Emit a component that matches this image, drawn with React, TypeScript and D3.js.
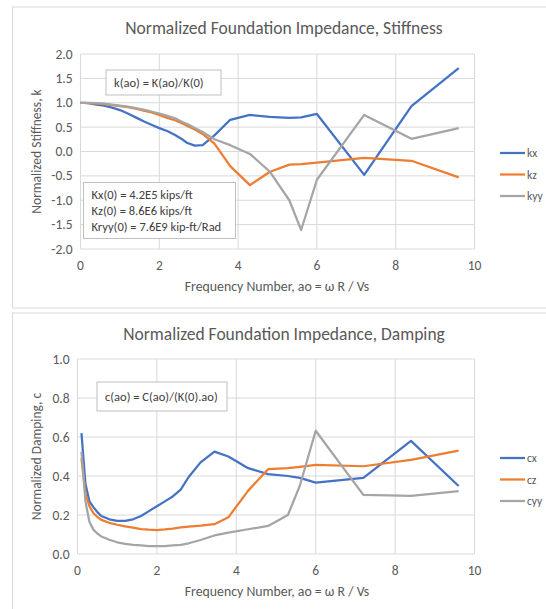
import React from 'react';
import * as d3 from 'd3';

// stiffness
const aoK = [0, 0.2, 0.4, 0.6, 0.8, 1.0, 1.2, 1.4, 1.6, 1.8, 2.0, 2.2, 2.4, 2.6, 2.7, 2.9, 3.1, 3.4, 3.8, 4.3, 4.8, 5.3, 5.6, 6.0, 7.2, 8.4, 9.6];
const kx = [1.0, 0.99, 0.96, 0.94, 0.9, 0.85, 0.78, 0.7, 0.62, 0.55, 0.48, 0.42, 0.34, 0.24, 0.18, 0.12, 0.13, 0.33, 0.65, 0.75, 0.71, 0.69, 0.7, 0.77, -0.48, 0.93, 1.71];
const kz = [1.0, 0.99, 0.98, 0.97, 0.95, 0.93, 0.91, 0.88, 0.84, 0.8, 0.75, 0.69, 0.64, 0.57, 0.53, 0.45, 0.36, 0.16, -0.3, -0.69, -0.42, -0.27, -0.26, -0.23, -0.13, -0.19, -0.53];
const kyy = [1.0, 1.0, 0.99, 0.98, 0.96, 0.94, 0.92, 0.89, 0.86, 0.82, 0.78, 0.73, 0.68, 0.6, 0.57, 0.48, 0.4, 0.25, 0.13, -0.05, -0.41, -1.0, -1.61, -0.58, 0.75, 0.26, 0.48];

// damping
const aoC = [0.1, 0.2, 0.3, 0.4, 0.5, 0.6, 0.8, 1.0, 1.2, 1.4, 1.6, 1.8, 2.0, 2.2, 2.4, 2.6, 2.8, 3.1, 3.45, 3.8, 4.3, 4.8, 5.3, 5.6, 6.0, 7.2, 8.4, 9.6];
const cx = [0.62, 0.36, 0.27, 0.24, 0.215, 0.195, 0.178, 0.17, 0.17, 0.178, 0.195, 0.22, 0.245, 0.27, 0.295, 0.33, 0.395, 0.47, 0.525, 0.5, 0.44, 0.41, 0.4, 0.39, 0.366, 0.39, 0.58, 0.349];
const cz = [0.49, 0.31, 0.245, 0.21, 0.19, 0.175, 0.16, 0.15, 0.142, 0.135, 0.128, 0.125, 0.123, 0.126, 0.13, 0.136, 0.14, 0.145, 0.153, 0.188, 0.325, 0.435, 0.44, 0.447, 0.457, 0.45, 0.483, 0.53];
const cyy = [0.525, 0.27, 0.165, 0.125, 0.105, 0.09, 0.073, 0.06, 0.052, 0.047, 0.044, 0.041, 0.04, 0.041, 0.044, 0.047, 0.055, 0.072, 0.095, 0.11, 0.127, 0.144, 0.2, 0.35, 0.632, 0.303, 0.298, 0.323];

const xTicks = [0, 2, 4, 6, 8, 10];
const kTicks = [-2, -1.5, -1, -0.5, 0, 0.5, 1, 1.5, 2];
const cTicks = [0, 0.2, 0.4, 0.6, 0.8, 1.0];

const colors = ['#4472C4', '#ED7D31', '#A5A5A5'];
const font = 'Carlito, Calibri, "Open Sans", sans-serif';
const textColor = '#595959';

interface Series {
  name: string;
  values: number[];
}

interface ChartProps {
  top: number;
  title: string;
  yLabel: string;
  xs: number[];
  series: Series[];
  yTicks: number[];
  plot: { left: number; right: number; top: number; bottom: number };
  notes: { x: number; y: number; w: number; h: number; lines: string[] }[];
}

const Chart: React.FC<ChartProps> = ({ top, title, yLabel, xs, series, yTicks, plot, notes }) => {
  const x = d3.scaleLinear().domain([0, 10]).range([plot.left, plot.right]);
  const y = d3
    .scaleLinear()
    .domain([yTicks[0], yTicks[yTicks.length - 1]])
    .range([plot.bottom, plot.top]);

  const line = d3
    .line<number>()
    .x((_, i) => x(xs[i]))
    .y((d) => y(d));

  return (
    <g>
      {/* chart frame */}
      <rect x={12.5} y={top} width={560} height={301} fill="#fff" stroke="#d9d9d9" strokeWidth={1} />
      <text x={284} y={top + 27} textAnchor="middle" fontSize={17.5} fill={textColor} fontFamily={font}>
        {title}
      </text>

      {/* gridlines */}
      {yTicks.map((t) => (
        <line key={'h' + t} x1={plot.left} x2={plot.right} y1={y(t)} y2={y(t)} stroke="#d9d9d9" />
      ))}
      {xTicks.map((t) => (
        <line key={'v' + t} x1={x(t)} x2={x(t)} y1={plot.top} y2={plot.bottom} stroke="#d9d9d9" />
      ))}

      {/* tick labels */}
      {yTicks.map((t) => (
        <text key={'yl' + t} x={plot.left - 8} y={y(t) + 4.5} textAnchor="end" fontSize={13.5} fill={textColor} fontFamily={font}>
          {d3.format('.1f')(t).replace('−', '-')}
        </text>
      ))}
      {xTicks.map((t) => (
        <text key={'xl' + t} x={x(t)} y={plot.bottom + 21} textAnchor="middle" fontSize={13.5} fill={textColor} fontFamily={font}>
          {t}
        </text>
      ))}

      <text x={277} y={plot.bottom + 42} textAnchor="middle" fontSize={13.8} fill={textColor} fontFamily={font}>
        Frequency Number, ao = ω R / Vs
      </text>
      <text
        transform={`translate(41, ${(plot.top + plot.bottom) / 2}) rotate(-90)`}
        textAnchor="middle"
        fontSize={13.5}
        fill={textColor}
        fontFamily={font}
      >
        {yLabel}
      </text>

      {/* notes */}
      {notes.map((n, i) => (
        <g key={'n' + i}>
          <rect x={n.x} y={n.y} width={n.w} height={n.h} fill="#fff" stroke="#bfbfbf" />
          {n.lines.map((l, j) => (
            <text key={j} x={n.x + 8} y={n.y + (n.lines.length === 1 ? n.h / 2 + 4.5 : 16 + j * 16)} fontSize={12.5} fill="#404040" fontFamily={font}>
              {l}
            </text>
          ))}
        </g>
      ))}

      {/* series */}
      {series.map((s, i) => (
        <path key={s.name} d={line(s.values) || ''} fill="none" stroke={colors[i]} strokeWidth={2.25} strokeLinejoin="round" />
      ))}

      {/* legend */}
      {series.map((s, i) => {
        const ly = plot.top + 99 + i * 21.5;
        return (
          <g key={'lg' + s.name}>
            <line x1={500} x2={525} y1={ly} y2={ly} stroke={colors[i]} strokeWidth={2.25} />
            <text x={527} y={ly + 4} fontSize={11.5} fill={textColor} fontFamily={font}>
              {s.name}
            </text>
          </g>
        );
      })}
    </g>
  );
};

export default function App() {
  return (
    <div style={{ position: 'absolute', left: 0, top: 0 }}>
      <svg width={546} height={609} style={{ display: 'block', background: '#fff' }}>
        <Chart
          top={7}
          title="Normalized Foundation Impedance, Stiffness"
          yLabel="Normalized Stiffness, k"
          xs={aoK}
          series={[
            { name: 'kx', values: kx },
            { name: 'kz', values: kz },
            { name: 'kyy', values: kyy },
          ]}
          yTicks={kTicks}
          plot={{ left: 80.5, right: 474.5, top: 54, bottom: 249 }}
          notes={[
            { x: 106, y: 70, w: 115, h: 25, lines: ['k(ao) = K(ao)/K(0)'] },
            {
              x: 83.5,
              y: 182.5,
              w: 152,
              h: 56,
              lines: ['Kx(0) = 4.2E5 kips/ft', 'Kz(0) = 8.6E6 kips/ft', 'Kryy(0) = 7.6E9 kip-ft/Rad'],
            },
          ]}
        />
        <Chart
          top={313}
          title="Normalized Foundation Impedance, Damping"
          yLabel="Normalized Damping, c"
          xs={aoC}
          series={[
            { name: 'cx', values: cx },
            { name: 'cz', values: cz },
            { name: 'cyy', values: cyy },
          ]}
          yTicks={cTicks}
          plot={{ left: 77.5, right: 474.5, top: 359, bottom: 554 }}
          notes={[{ x: 97, y: 382, w: 130, h: 29, lines: ['c(ao) = C(ao)/(K(0).ao)'] }]}
        />
      </svg>
    </div>
  );
}
